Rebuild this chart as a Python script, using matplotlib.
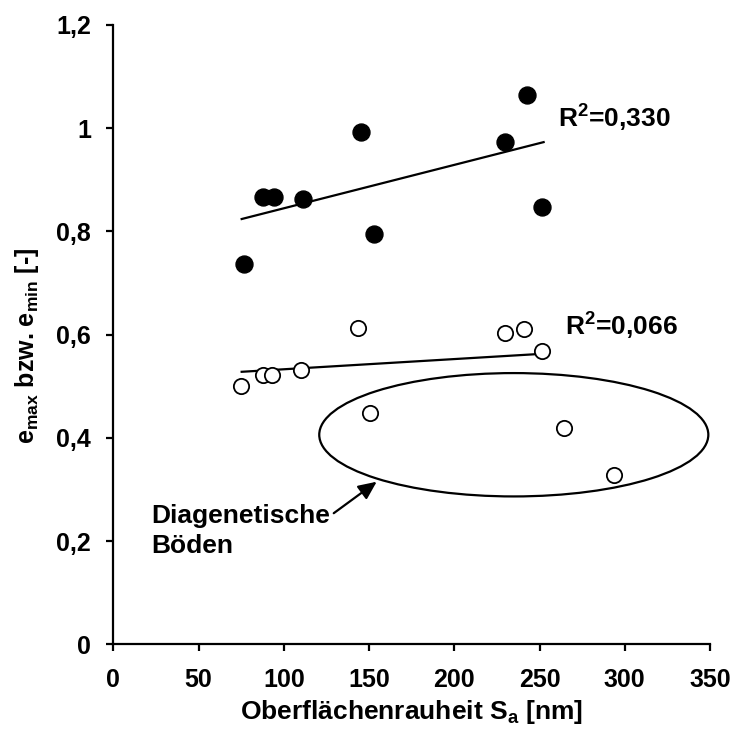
import matplotlib
matplotlib.use("Agg")
import matplotlib.pyplot as plt
from matplotlib.patches import Ellipse

plt.rcParams["font.family"] = ["Liberation Sans", "DejaVu Sans"]
plt.rcParams["font.weight"] = "bold"
plt.rcParams["mathtext.fontset"] = "custom"
plt.rcParams["mathtext.rm"] = "Liberation Sans"
plt.rcParams["mathtext.bf"] = "Liberation Sans:bold"

# e_max measurements (filled circles)
sa_max = [76.5, 88.0, 94.4, 111.4, 145.1, 152.9, 229.5, 242.7, 251.4]
e_max = [0.737, 0.867, 0.867, 0.862, 0.993, 0.795, 0.973, 1.064, 0.847]

# e_min measurements (open circles)
sa_min = [74.9, 88.0, 92.9, 110.0, 143.3, 150.5, 229.5, 240.9, 251.3, 264.5, 293.8]
e_min = [0.501, 0.522, 0.522, 0.532, 0.612, 0.449, 0.603, 0.611, 0.569, 0.420, 0.328]

# trend lines (start / end)
trend_x = [75.3, 252.4]
trend_max = [0.824, 0.973]
trend_min = [0.528, 0.563]

r2_max = "0,330"
r2_min = "0,066"

x_ticks = [0, 50, 100, 150, 200, 250, 300, 350]
y_ticks = [0, 0.2, 0.4, 0.6, 0.8, 1.0, 1.2]
y_ticklabels = ["0", "0,2", "0,4", "0,6", "0,8", "1", "1,2"]

fig = plt.figure(figsize=(7.39, 7.30), dpi=100)
ax = fig.add_axes([0.1533, 0.1174, 0.8075, 0.8484])

ax.plot(trend_x, trend_max, color="black", lw=1.6, zorder=2)
ax.plot(trend_x, trend_min, color="black", lw=1.6, zorder=2)

ax.plot(sa_max, e_max, "o", ms=12.2, color="black", zorder=3)
ax.plot(sa_min, e_min, "o", ms=11, mfc="white", mec="black", mew=1.3, zorder=3)

ax.text(261, 1.003, r"R$^\mathregular{2}$=" + r2_max, fontsize=19, fontweight="bold")
ax.text(265, 0.601, r"R$^\mathregular{2}$=" + r2_min, fontsize=19, fontweight="bold")

ell = Ellipse((234.9, 0.406), 228.2, 0.239, fill=False, edgecolor="black", lw=1.6, zorder=2)
ax.add_patch(ell)

ax.annotate("", xy=(154.5, 0.315), xytext=(129.3, 0.254),
            arrowprops=dict(arrowstyle="-|>,head_length=1.1,head_width=0.5",
                            color="black", lw=1.6, shrinkA=0, shrinkB=0))
ax.text(22.5, 0.2345, "Diagenetische", fontsize=19, fontweight="bold")
ax.text(22.5, 0.176, "Böden", fontsize=19, fontweight="bold")

ax.set_xlim(0, 350)
ax.set_ylim(0, 1.2)
ax.set_xticks(x_ticks)
ax.set_xticklabels([str(t) for t in x_ticks])
ax.set_yticks(y_ticks)
ax.set_yticklabels(y_ticklabels)

for side in ("top", "right"):
    ax.spines[side].set_visible(False)
for side in ("left", "bottom"):
    ax.spines[side].set_linewidth(1.6)
ax.tick_params(direction="out", length=5, width=1.6, labelsize=18)
ax.tick_params(axis="x", pad=12)
ax.tick_params(axis="y", pad=11)
for lab in ax.get_xticklabels() + ax.get_yticklabels():
    lab.set_fontweight("bold")

fig.text(411 / 739, 1 - 719 / 730, r"Oberflächenrauheit S$_\mathregular{a}$ [nm]",
         ha="center", va="baseline", fontsize=19, fontweight="bold")
fig.text(27 / 739, 1 - 346 / 730,
         r"e$_\mathregular{max}$ bzw. e$_\mathregular{min}$ [-]",
         rotation=90, ha="center", va="center", fontsize=18, fontweight="bold")

fig.savefig("out.png", dpi=100)
